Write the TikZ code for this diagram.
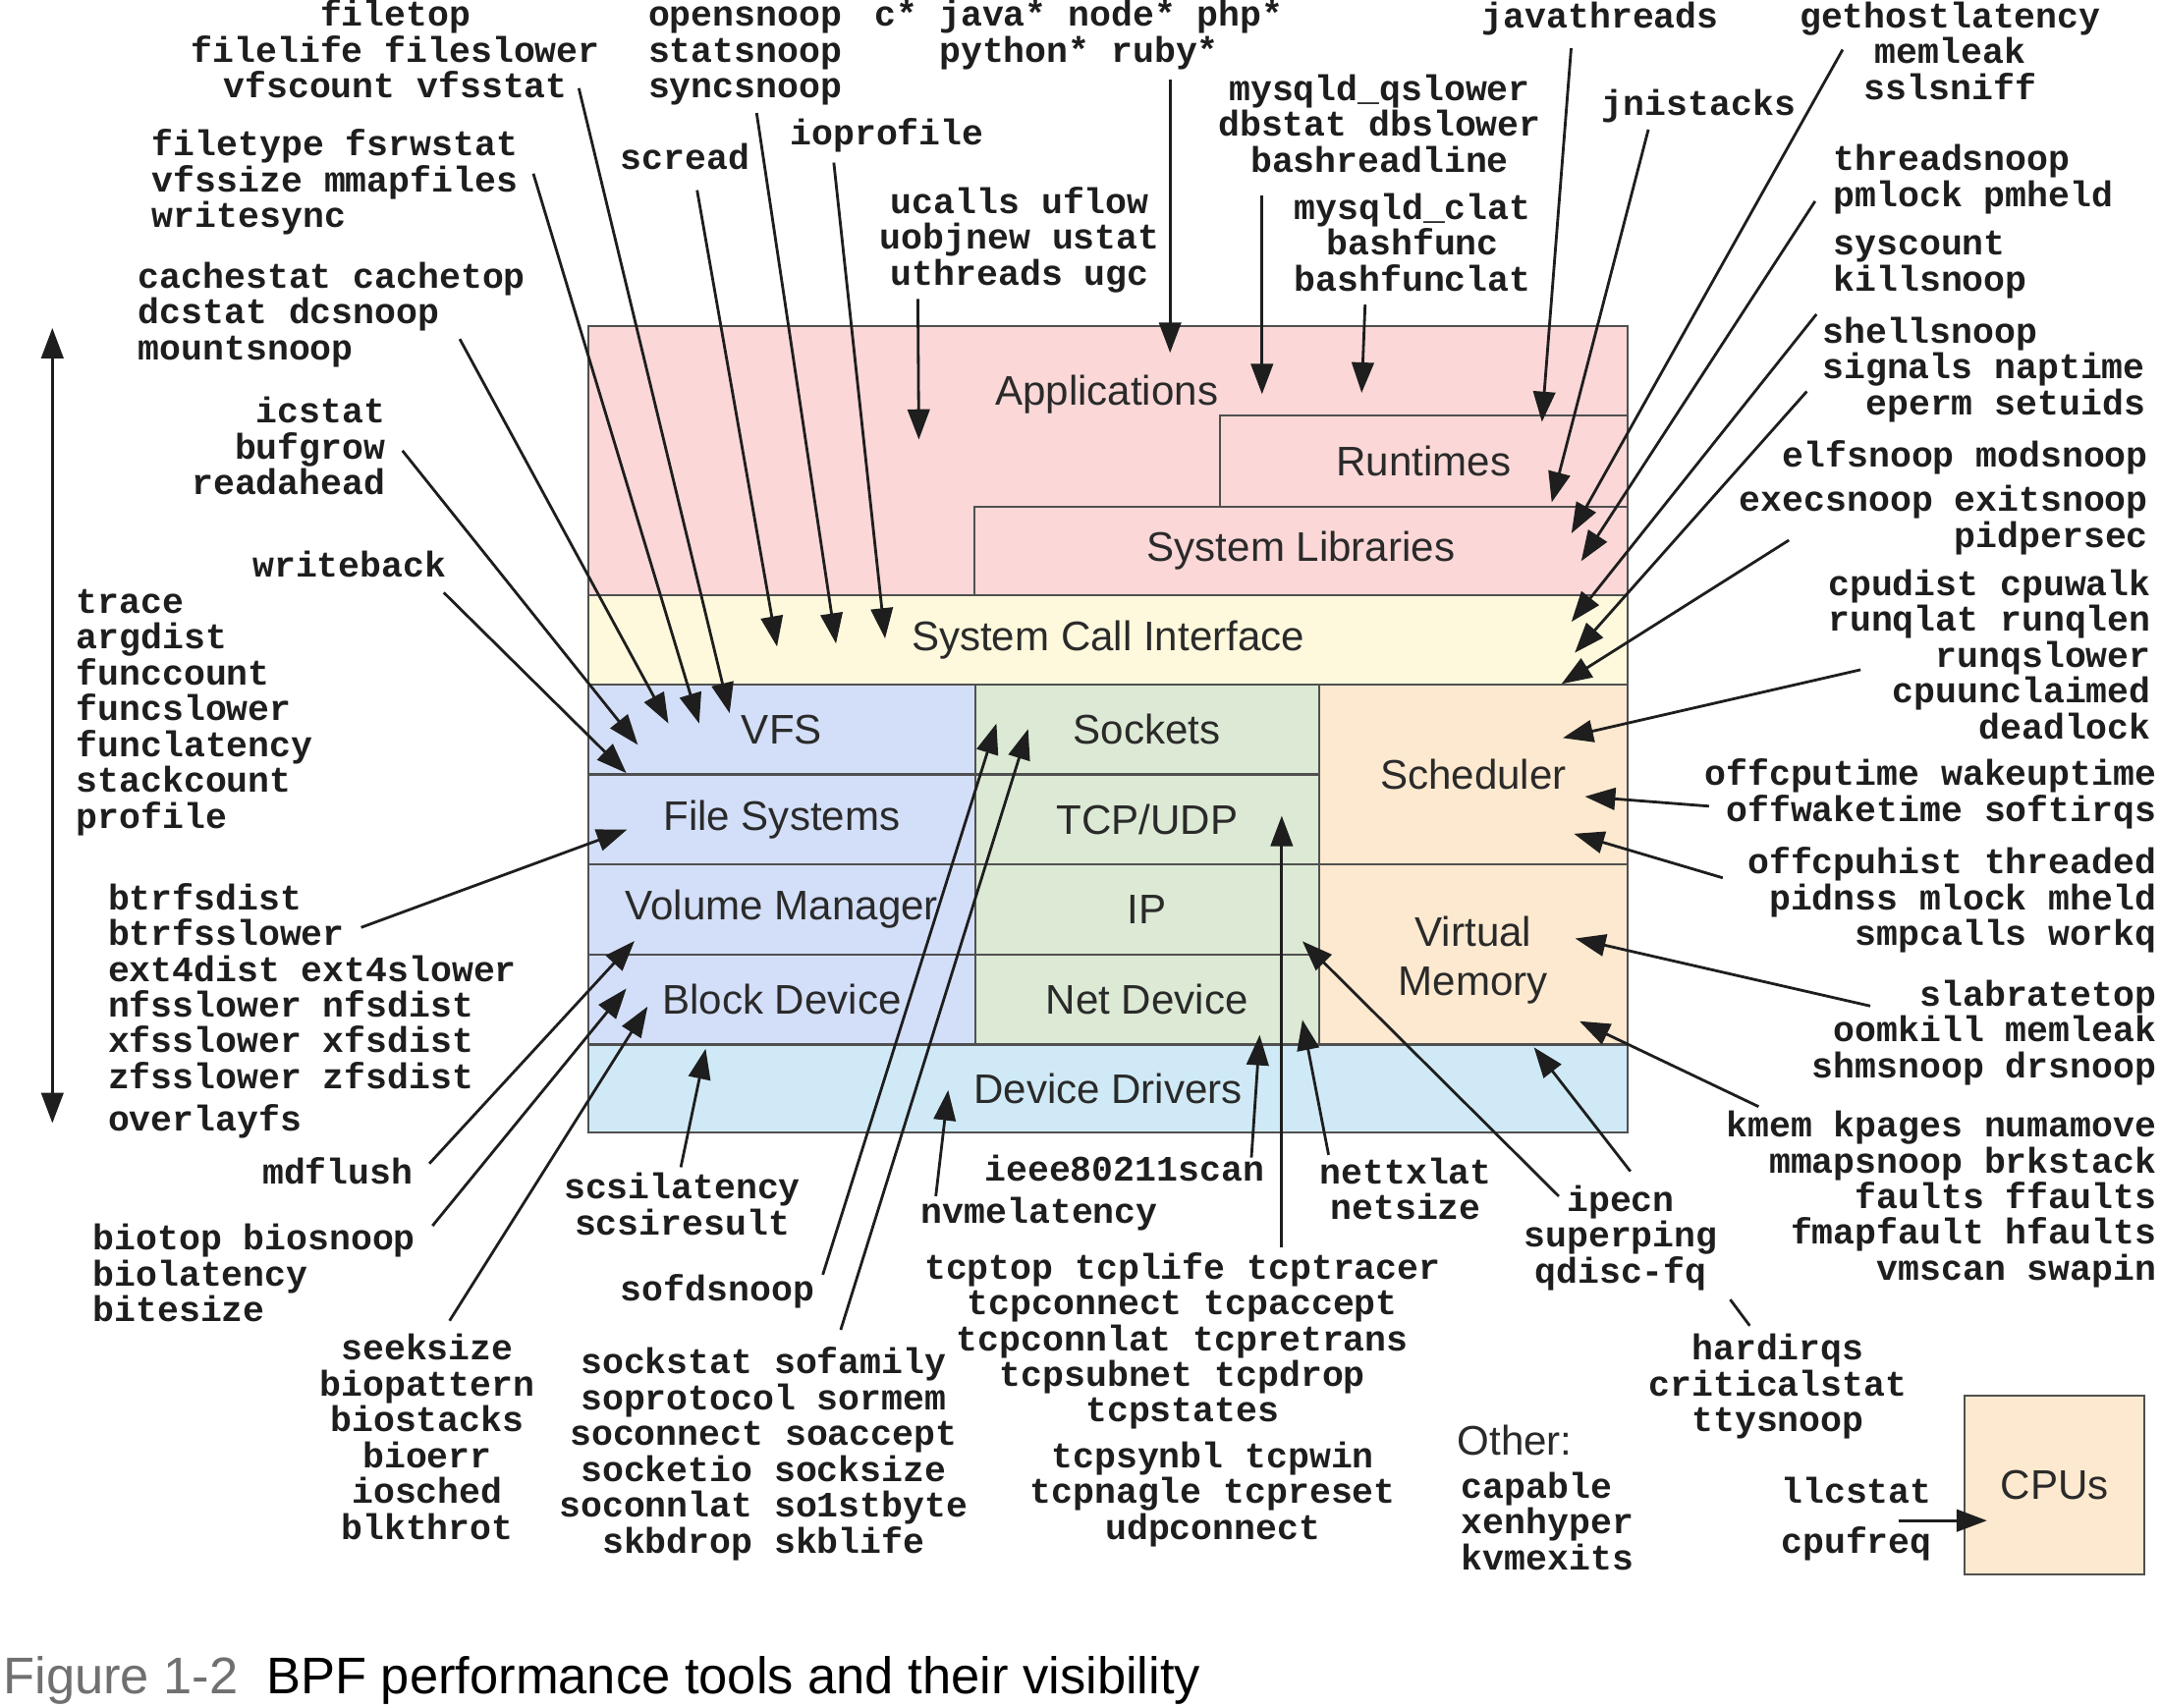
\documentclass[tikz,border=0pt]{standalone}
\usepackage{fontspec}
\setmainfont{Liberation Sans}
\newfontfamily\monof{Liberation Mono}
\usetikzlibrary{arrows.meta}
\definecolor{appc}{HTML}{FBD7D7}
\definecolor{scic}{HTML}{FEF9DC}
\definecolor{fsc}{HTML}{D3DFF8}
\definecolor{netc}{HTML}{DCE9D4}
\definecolor{schc}{HTML}{FDE9CF}
\definecolor{drvc}{HTML}{CFEAF6}
\definecolor{bordc}{HTML}{505050}
\definecolor{txt}{HTML}{1E1E1E}
\definecolor{boxtxt}{HTML}{2A2A2A}
\definecolor{capg}{HTML}{707070}
\begin{document}
\begin{tikzpicture}[x=0.5pt,y=-0.5pt,
  lbl/.style={font=\fontsize{13pt}{13pt}\selectfont\monof\bfseries, text=txt, inner sep=0pt},
  lblL/.style={lbl, align=left, anchor=base west},
  lblR/.style={lbl, align=right, anchor=base east},
  lblC/.style={lbl, align=center, anchor=base},
  box/.style={draw=bordc, line width=0.8pt, inner sep=0pt, align=center,
    font=\fontsize{15pt}{17.5pt}\selectfont, text=boxtxt},
  arr/.style={-{Triangle[length=11pt,width=8pt]}, line width=1pt, draw=txt},
  plain/.style={line width=1pt, draw=txt},
  captext/.style={anchor=base west, inner sep=0pt, font=\fontsize{18.7pt}{22pt}\selectfont}
]
\fill[white] (0,0) rectangle (1568,1239);
\useasboundingbox (0,0) rectangle (1568,1239);

% ---------- boxes ----------
\node[box, fill=appc, minimum width=377pt, minimum height=97.75pt] (apps) at (804,334.25) {};
\node[anchor=base, inner sep=0pt, font=\fontsize{15pt}{17.5pt}\selectfont, text=boxtxt] (appslbl) at (803,294) {Applications};
\node[box, fill=appc, minimum width=148pt, minimum height=33pt] (runtimes) at (1033,334.5) {Runtimes};
\node[box, fill=appc, minimum width=237pt, minimum height=32.25pt] (syslib) at (944,399.75) {System Libraries};
\node[box, fill=scic, minimum width=377pt, minimum height=32.5pt] (sci) at (804,464.5) {System Call Interface};
\node[box, fill=fsc, minimum width=140.25pt, minimum height=32.5pt] (vfs) at (567.25,529.5) {VFS};
\node[box, fill=fsc, minimum width=140.25pt, minimum height=32.5pt] (fs) at (567.25,594.5) {File Systems};
\node[box, fill=fsc, minimum width=140.25pt, minimum height=32.75pt] (volmgr) at (567.25,659.75) {Volume Manager};
\node[box, fill=fsc, minimum width=140.25pt, minimum height=32.75pt] (blockdev) at (567.25,725.25) {Block Device};
\node[box, fill=netc, minimum width=124.75pt, minimum height=32.5pt] (sockets) at (832.25,529.5) {Sockets};
\node[box, fill=netc, minimum width=124.75pt, minimum height=32.5pt] (tcpudp) at (832.25,594.5) {TCP/UDP};
\node[box, fill=netc, minimum width=124.75pt, minimum height=32.75pt] (ip) at (832.25,659.75) {IP};
\node[box, fill=netc, minimum width=124.75pt, minimum height=32.75pt] (netdev) at (832.25,725.25) {Net Device};
\node[box, fill=schc, minimum width=112pt, minimum height=65pt] (sched) at (1069,562) {Scheduler};
\node[box, fill=schc, minimum width=112pt, minimum height=65.5pt] (vmem) at (1069,692.5) {};
\node[anchor=base, inner sep=0pt, align=center, font=\fontsize{15pt}{17.5pt}\selectfont, text=boxtxt] (vmemlbl) at (1069,722) {Virtual\\Memory};
\node[box, fill=drvc, minimum width=377pt, minimum height=32pt] (devdrv) at (804,790) {Device Drivers};
\node[box, fill=schc, minimum width=65.25pt, minimum height=65pt] (cpus) at (1490.75,1077.5) {CPUs};

% ---------- labels: top left (anchor = baseline of last line) ----------
\node[lblC] (filetop) at (287,71) {filetop\\filelife fileslower\\vfscount vfsstat};
\node[lblL] (filetype) at (110,165) {filetype fsrwstat\\vfssize mmapfiles\\writesync};
\node[lblL] (cachestat) at (100,261) {cachestat cachetop\\dcstat dcsnoop\\mountsnoop};
\node[lblR] (icstat) at (280,359) {icstat\\bufgrow\\readahead};
\node[lblL] (writeback) at (183,419) {writeback};
\node[lblL] (trace) at (55,601) {trace\\argdist\\funccount\\funcslower\\funclatency\\stackcount\\profile};
\node[lblL] (btrfs) at (78,821) {btrfsdist\\btrfsslower\\ext4dist ext4slower\\nfsslower nfsdist\\xfsslower xfsdist\\zfsslower zfsdist\\[2.5pt]overlayfs};
\node[lblR] (mdflush) at (300,859) {mdflush};
\node[lblL] (biotop) at (67,959) {biotop biosnoop\\biolatency\\bitesize};
\node[lblC] (seeksize) at (310,1117) {seeksize\\biopattern\\biostacks\\bioerr\\iosched\\blkthrot};

% ---------- labels: bottom middle ----------
\node[lblC] (scsi) at (495,896) {scsilatency\\scsiresult};
\node[lblL] (sofdsnoop) at (450,944) {sofdsnoop};
\node[lblC] (sockstat) at (554,1127) {sockstat sofamily\\soprotocol sormem\\soconnect soaccept\\socketio socksize\\soconnlat so1stbyte\\skbdrop skblife};
\node[lblL] (nvme) at (668,888) {nvmelatency};
\node[lblL] (ieee) at (714,857) {ieee80211scan};
\node[lblC] (nettx) at (1020,885) {nettxlat\\netsize};
\node[lblC] (tcptop) at (858,1032) {tcptop tcplife tcptracer\\tcpconnect tcpaccept\\tcpconnlat tcpretrans\\tcpsubnet tcpdrop\\tcpstates};
\node[lblC] (tcpsyn) at (880,1117) {tcpsynbl tcpwin\\tcpnagle tcpreset\\udpconnect};
\node[anchor=base west, inner sep=0pt, font=\fontsize{15pt}{17.5pt}\selectfont, text=boxtxt] (other) at (1057,1056) {Other:};
\node[lblL] (capable) at (1060,1139) {capable\\xenhyper\\kvmexits};
\node[lblC] (ipecn) at (1176,931) {ipecn\\superping\\qdisc-fq};
\node[lblC] (hardirqs) at (1290,1039) {hardirqs\\criticalstat\\ttysnoop};
\node[lblL] (llc) at (1292,1091) {llcstat};
\node[lblL] (cpufreq) at (1292,1127) {cpufreq};

% ---------- labels: top middle ----------
\node[lblL] (opensnoop) at (470,71) {opensnoop\\statsnoop\\syncsnoop};
\node[lblC] (cstar) at (783,45) {c* java* node* php*\\python* ruby*};
\node[lblL] (scread) at (450,123) {scread};
\node[lblL] (ioprofile) at (573,105) {ioprofile};
\node[lblC] (ucalls) at (740,207) {ucalls uflow\\uobjnew ustat\\uthreads ugc};
\node[lblC] (mysqlq) at (1001,125) {mysqld\_qslower\\dbstat dbslower\\bashreadline};
\node[lblC] (mysqlc) at (1025,211) {mysqld\_clat\\bashfunc\\bashfunclat};
\node[lblL] (javathreads) at (1075,20) {javathreads};
\node[lblL] (jnistacks) at (1162,84) {jnistacks};

% ---------- labels: right ----------
\node[lblC] (gethost) at (1415,72) {gethostlatency\\memleak\\sslsniff};
\node[lblL] (threadsnoop) at (1330,150) {threadsnoop\\pmlock pmheld};
\node[lblL] (syscount) at (1330,211) {syscount\\killsnoop};
\node[lblL] (shellsnoop) at (1322,275) {shellsnoop\\signals naptime};
\node[lblR] (eperm) at (1557,301) {eperm setuids};
\node[lblR] (elfsnoop) at (1559,397) {elfsnoop modsnoop\\[3pt]execsnoop exitsnoop\\pidpersec};
\node[lblR] (cpudist) at (1561,536) {cpudist cpuwalk\\runqlat runqlen\\runqslower\\cpuunclaimed\\deadlock};
\node[lblR] (offcputime) at (1565,596) {offcputime wakeuptime\\offwaketime softirqs};
\node[lblR] (offcpuhist) at (1565,686) {offcpuhist threaded\\pidnss mlock mheld\\smpcalls workq};
\node[lblR] (slab) at (1565,782) {slabratetop\\oomkill memleak\\shmsnoop drsnoop};
\node[lblR] (kmem) at (1565,929) {kmem kpages numamove\\mmapsnoop brkstack\\faults ffaults\\fmapfault hfaults\\vmscan swapin};

% ---------- caption ----------
\node[captext, text=capg] (figno) at (2,1229) {Figure 1-2};
\node[captext, text=black] (captxt) at (193,1229) {BPF performance tools and their visibility};

% ---------- connector end points ----------
\coordinate (s1) at (420,64);      \coordinate (e1) at (529.4,517.5);
\coordinate (s2) at (387,126);     \coordinate (e2) at (507.3,525);
\coordinate (s3) at (333.6,246);   \coordinate (e3) at (485,525);
\coordinate (s4) at (292,327);     \coordinate (e4) at (462.8,540.5);
\coordinate (s5) at (322,430);     \coordinate (e5) at (454.5,561);
\coordinate (s6) at (262,673);     \coordinate (e6) at (455,602);
\coordinate (s7) at (311.5,844.4); \coordinate (e7) at (460.4,682.8);
\coordinate (s8) at (313.8,889.5); \coordinate (e8) at (454.5,717.3);
\coordinate (s9) at (326.2,958.4); \coordinate (e9) at (469.9,730.4);
\coordinate (s10) at (494,847);    \coordinate (e10) at (512,761);
\coordinate (s11) at (597,925);    \coordinate (e11) at (723,525);
\coordinate (s12) at (610,965);    \coordinate (e12) at (746,529);
\coordinate (s13) at (679,868);    \coordinate (e13) at (688,791);
\coordinate (s14) at (908,840);    \coordinate (e14) at (914,751);
\coordinate (s15) at (930,905);    \coordinate (e15) at (930,592);
\coordinate (s16) at (964,838);    \coordinate (e16) at (945,740);
\coordinate (s17) at (1131,868);   \coordinate (e17) at (945,683);
\coordinate (s18) at (1183,850);   \coordinate (e18) at (1113,760);
\coordinate (s19) at (1276,803);   \coordinate (e19) at (1146,741);
\coordinate (s20) at (1357,730);   \coordinate (e20) at (1143,681);
\coordinate (s21) at (1250,637);   \coordinate (e21) at (1142,605);
\coordinate (s22) at (1240,585);   \coordinate (e22) at (1150,578);
\coordinate (s23) at (1350,486);   \coordinate (e23) at (1134,535.5);
\coordinate (s24) at (1298,392);   \coordinate (e24) at (1133,496.3);
\coordinate (s25) at (1311,284);   \coordinate (e25) at (1142.6,473.7);
\coordinate (s26) at (1318,228);   \coordinate (e26) at (1140.2,451.2);
\coordinate (s27) at (1317,146);   \coordinate (e27) at (1147.3,407.2);
\coordinate (s28) at (1337,36);    \coordinate (e28) at (1140.2,387);
\coordinate (s29) at (1196,94);    \coordinate (e29) at (1125.9,364.5);
\coordinate (s30) at (1140,35);    \coordinate (e30) at (1118.8,306.2);
\coordinate (s31) at (990.5,221);  \coordinate (e31) at (988,285);
\coordinate (s32) at (915.7,142);  \coordinate (e32) at (915.7,286);
\coordinate (s33) at (849,58);     \coordinate (e33) at (849,256);
\coordinate (s34) at (666,217);    \coordinate (e34) at (666.7,319);
\coordinate (s35) at (505.8,138);  \coordinate (e35) at (563.8,469.2);
\coordinate (s36) at (549,82);     \coordinate (e36) at (606.6,467);
\coordinate (s37) at (605,118);    \coordinate (e37) at (642.2,463.3);
\coordinate (s38) at (1377.5,1103.4); \coordinate (e38) at (1441.7,1103.4);
\coordinate (s39) at (1255.4,943); \coordinate (e39) at (1269.6,962);
\coordinate (s40) at (38,238);     \coordinate (e40) at (38,815);

% ---------- connectors ----------
\foreach \i in {1,...,38} { \draw[arr] (s\i) -- (e\i); }
\draw[plain] (s39) -- (e39);
\draw[line width=1pt, draw=txt, {Triangle[length=11pt,width=8pt]}-{Triangle[length=11pt,width=8pt]}] (s40) -- (e40);
\end{tikzpicture}
\end{document}
